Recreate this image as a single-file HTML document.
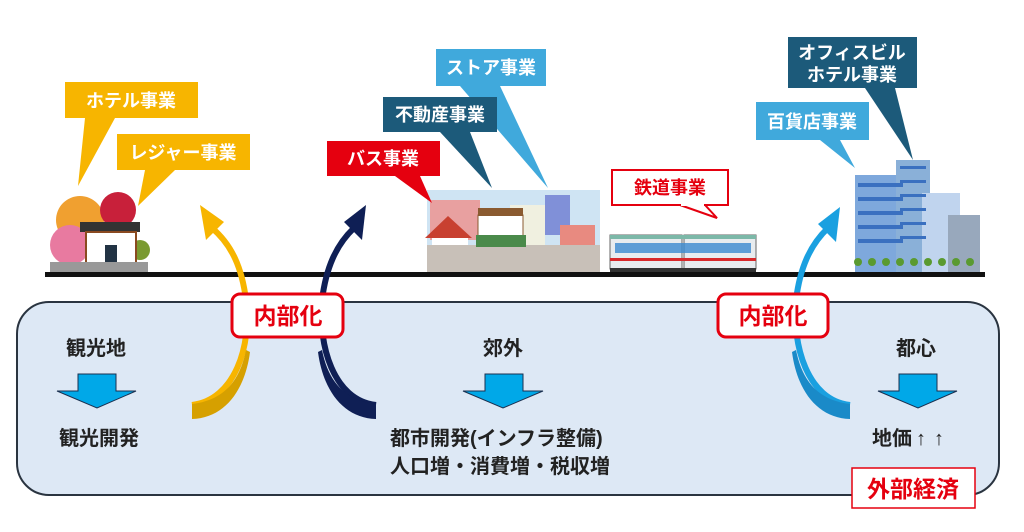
<!DOCTYPE html>
<html><head><meta charset="utf-8"><style>
html,body{margin:0;padding:0;background:#fff;}
body{width:1024px;height:532px;overflow:hidden;}
svg{display:block;font-family:"Liberation Sans","Noto Sans CJK JP",sans-serif;}
</style></head><body>
<svg width="1024" height="532" viewBox="0 0 1024 532">
<rect x="17" y="302" width="982" height="193" rx="32" fill="#dde8f5" stroke="#2a3440" stroke-width="2"/>
<rect x="45" y="272" width="940" height="5" fill="#111"/>

<g>
<circle cx="80" cy="220" r="24" fill="#f0a030"/>
<circle cx="70" cy="245" r="20" fill="#e87aa0"/>
<circle cx="118" cy="210" r="18" fill="#c8203a"/>
<circle cx="140" cy="250" r="10" fill="#7a9a30"/>
<rect x="80" y="222" width="60" height="10" fill="#333"/>
<rect x="86" y="232" width="50" height="34" fill="#fff" stroke="#8a4a20" stroke-width="2"/>
<rect x="105" y="245" width="12" height="21" fill="#234"/>
<rect x="50" y="262" width="98" height="10" fill="#999"/>
</g>

<g>
<rect x="427" y="190" width="173" height="82" fill="#cfe4f3"/>
<rect x="430" y="200" width="50" height="40" fill="#e8a0a0"/>
<rect x="545" y="195" width="25" height="40" fill="#8090d8"/>
<rect x="510" y="205" width="35" height="40" fill="#f0f0e0"/>
<rect x="560" y="225" width="35" height="20" fill="#e88a80"/>
<polygon points="425,238 448,216 472,238" fill="#c84030"/>
<rect x="432" y="238" width="36" height="30" fill="#fff"/>
<rect x="478" y="215" width="45" height="40" fill="#fff" stroke="#8a5a30"/>
<rect x="478" y="208" width="45" height="8" fill="#8a5a30"/>
<rect x="427" y="245" width="173" height="27" fill="#c8c0b8"/>
<rect x="476" y="235" width="50" height="12" fill="#4a8a4a"/>
</g>

<g>
<rect x="610" y="235" width="72" height="34" fill="#e8ecef" stroke="#666" stroke-width="1"/>
<rect x="684" y="235" width="72" height="34" fill="#e8ecef" stroke="#666" stroke-width="1"/>
<rect x="610" y="235" width="146" height="4" fill="#7cb8a8"/>
<rect x="610" y="258" width="146" height="3" fill="#d8282a"/>
<rect x="615" y="243" width="136" height="10" fill="#3a8ad0" opacity="0.8"/>
<rect x="610" y="268" width="146" height="4" fill="#333"/>
</g>

<g>
<rect x="855" y="175" width="50" height="97" fill="#7ea8dc"/>
<rect x="896" y="160" width="34" height="112" fill="#8ab0d8"/>
<rect x="922" y="193" width="38" height="79" fill="#c0d4ee"/>
<rect x="948" y="215" width="32" height="57" fill="#98a8bc"/>
<g fill="#3a70c0">
<rect x="858" y="183" width="45" height="4"/><rect x="858" y="197" width="45" height="4"/><rect x="858" y="211" width="45" height="4"/><rect x="858" y="225" width="45" height="4"/><rect x="858" y="239" width="45" height="4"/>
<rect x="900" y="166" width="26" height="3"/><rect x="900" y="180" width="26" height="3"/><rect x="900" y="194" width="26" height="3"/><rect x="900" y="208" width="26" height="3"/><rect x="900" y="222" width="26" height="3"/><rect x="900" y="236" width="26" height="3"/>
</g>
<g fill="#5a9a30"><circle cx="858" cy="262" r="4"/><circle cx="872" cy="262" r="4"/><circle cx="886" cy="262" r="4"/><circle cx="900" cy="262" r="4"/><circle cx="914" cy="262" r="4"/><circle cx="928" cy="262" r="4"/><circle cx="942" cy="262" r="4"/><circle cx="956" cy="262" r="4"/><circle cx="970" cy="262" r="4"/></g>
</g>

<g font-size="18" font-weight="bold" fill="#fff" text-anchor="middle">
<polygon points="85,118 115,118 78,186" fill="#f7b500"/>
<rect x="65" y="82" width="133" height="36" fill="#f7b500"/>
<text x="131" y="107">ホテル事業</text>
<polygon points="145,170 175,170 138,206" fill="#f7b500"/>
<rect x="117" y="134" width="133" height="36" fill="#f7b500"/>
<text x="183" y="159">レジャー事業</text>

<polygon points="460,86 500,86 548,188" fill="#40a9dc"/>
<rect x="436" y="49" width="110" height="37" fill="#40a9dc"/>
<text x="491" y="74">ストア事業</text>
<polygon points="440,132 470,132 492,188" fill="#1c5a7a"/>
<rect x="383" y="97" width="114" height="35" fill="#1c5a7a"/>
<text x="440" y="121">不動産事業</text>
<polygon points="395,176 420,176 432,203" fill="#e5000f"/>
<rect x="327" y="141" width="113" height="35" fill="#e5000f"/>
<text x="383" y="165">バス事業</text>

<polygon points="680,205 705,205 717,218" fill="#fff" stroke="#e5000f" stroke-width="2"/>
<rect x="612" y="170" width="116" height="35" fill="#fff" stroke="#e5000f" stroke-width="2"/>
<rect x="681" y="203" width="23" height="3" fill="#fff"/>
<text x="670" y="194" fill="#e5000f">鉄道事業</text>

<polygon points="865,88 895,88 913,160" fill="#1c5a7a"/>
<rect x="788" y="37" width="129" height="51" fill="#1c5a7a"/>
<text x="852" y="59">オフィスビル</text>
<text x="852" y="81">ホテル事業</text>
<polygon points="820,140 840,140 855,168" fill="#40a9dc"/>
<rect x="756" y="102" width="113" height="38" fill="#40a9dc"/>
<text x="812" y="128">百貨店事業</text>
</g>

<path d="M192,405 C235,400 252,345 246,300 C242,268 232,245 212,228" fill="none" stroke="#f7b500" stroke-width="6"/>
<path d="M192,404 C225,400 240,380 246,350 L250,352 C245,390 225,418 192,419 Z" fill="#d6a000"/>
<polygon points="200,205 224,222 206,240" fill="#f7b500"/>

<path d="M376,405 C333,400 318,345 322,300 C326,268 336,245 354,228" fill="none" stroke="#0f1f55" stroke-width="6"/>
<path d="M376,404 C343,400 328,380 322,350 L318,352 C323,390 343,418 376,419 Z" fill="#0f1f55"/>
<polygon points="366,205 344,222 362,240" fill="#0f1f55"/>

<path d="M850,405 C807,400 792,345 796,300 C800,268 810,245 828,228" fill="none" stroke="#1aa0e0" stroke-width="6"/>
<path d="M850,404 C817,400 802,380 796,350 L792,352 C797,390 817,418 850,419 Z" fill="#1a8ac8"/>
<polygon points="840,207 818,224 836,242" fill="#1aa0e0"/>

<g font-size="23" font-weight="bold" fill="#e5000f" text-anchor="middle">
<rect x="232" y="294" width="111" height="43" rx="8" fill="#fff" stroke="#e5000f" stroke-width="3"/>
<text x="288" y="324">内部化</text>
<rect x="718" y="294" width="110" height="43" rx="8" fill="#fff" stroke="#e5000f" stroke-width="3"/>
<text x="773" y="324">内部化</text>
</g>

<g font-size="20" font-weight="bold" fill="#222" text-anchor="middle">
<text x="96" y="355">観光地</text>
<text x="99" y="445">観光開発</text>
<text x="503" y="355">郊外</text>
<text x="916" y="355">都心</text>
<text x="390" y="445" text-anchor="start">都市開発(インフラ整備)</text>
<text x="390" y="473" text-anchor="start">人口増・消費増・税収増</text>
<text x="872" y="445" text-anchor="start">地価<tspan font-weight="normal" dx="4">↑</tspan><tspan font-weight="normal" dx="8">↑</tspan></text>
</g>

<g fill="#00a8e8" stroke="#1a3050" stroke-width="1">
<polygon points="78,374 116,374 116,391 136,391 97,408 57,391 78,391"/>
<polygon points="485,374 523,374 523,391 543,391 503,408 463,391 485,391"/>
<polygon points="899,374 937,374 937,391 957,391 918,408 878,391 899,391"/>
</g>

<rect x="852" y="468" width="123" height="40" fill="#fff" stroke="#e5000f" stroke-width="1.5"/>
<text x="913" y="497" font-size="23" font-weight="bold" fill="#e5000f" text-anchor="middle">外部経済</text>
</svg>
</body></html>
